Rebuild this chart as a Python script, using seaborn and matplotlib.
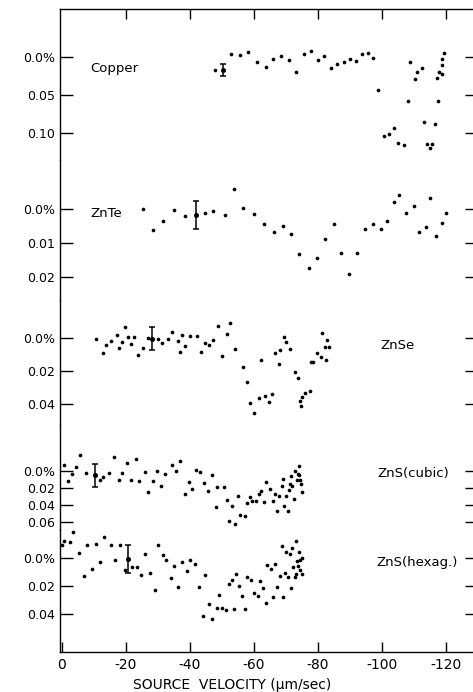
import matplotlib
matplotlib.use("Agg")
import matplotlib.pyplot as plt
import seaborn as sns

# ---------------- data (velocity in um/sec, absorption in %) ----------------
copper_v = [-47.9, -52.9, -55.8, -58.2, -61.0, -63.7, -66.1, -68.6, -71.1, -73.2, -75.8, -77.9,
            -80.0, -82.1, -84.1, -86.0, -88.1, -90.0, -92.0, -93.8, -95.6, -97.3, -98.7, -100.7,
            -102.2, -103.8, -105.0, -107.1, -108.2, -108.8, -110.5, -111.1, -112.5, -113.2, -114.3,
            -115.1, -115.8, -116.6, -117.4, -117.7, -118.0, -118.7, -118.9, -119.0, -119.6]
copper_a = [0.0171, -0.0044, -0.0022, -0.0066, 0.0070, 0.0136, 0.0031, -0.0013, 0.0044, 0.0202,
            -0.0035, -0.0083, 0.0044, -0.0013, 0.0149, 0.0096, 0.0061, 0.0026, 0.0053, -0.0035,
            -0.0048, 0.0009, 0.0434, 0.1039, 0.1009, 0.0934, 0.1127, 0.1158, 0.0579, 0.0070,
            0.0289, 0.0193, 0.0149, 0.0851, 0.1149, 0.1193, 0.1149, 0.0882, 0.0272, 0.0575,
            0.0197, 0.0228, 0.0110, 0.0022, -0.0053]
copper_err = (-50.5, 0.0175, 0.0079)

znte_v = [-25.2, -28.6, -31.7, -35.0, -38.5, -44.6, -47.4, -51.1, -53.7, -56.7, -60.1, -63.1,
          -66.2, -69.0, -71.7, -74.2, -77.2, -79.8, -82.4, -85.0, -87.4, -89.8, -92.4, -94.7,
          -97.4, -99.7, -101.6, -103.8, -105.5, -107.7, -110.0, -111.7, -113.9, -115.2, -117.1,
          -118.8, -120.0]
znte_a = [0.0, 0.00627, 0.00353, 0.0002, 0.00206, 0.00118, 0.00069, 0.00176, -0.00588, -0.00039,
          0.00157, 0.00451, 0.00686, 0.0051, 0.00725, 0.01324, 0.01725, 0.01441, 0.00892, 0.00431,
          0.01294, 0.01912, 0.01294, 0.00578, 0.00431, 0.00578, 0.00363, -0.00216, -0.00402,
          0.00118, -0.00098, 0.00686, 0.0052, -0.00333, 0.00804, 0.00412, 0.00127]
znte_err = (-41.9, 0.00176, 0.00407)

znse_v = [-10.7, -12.7, -13.8, -15.3, -17.3, -17.8, -18.8, -19.8, -20.8, -21.7, -22.5, -23.7,
          -25.4, -27.0, -29.9, -31.4, -33.1, -34.5, -36.2, -37.0, -37.6, -38.6, -40.1, -42.2,
          -43.5, -44.8, -46.0, -47.3, -48.7, -50.1, -51.5, -52.7, -54.2, -56.7, -58.0, -58.8,
          -60.1, -61.6, -62.4, -63.6, -64.7, -65.8, -66.7, -67.8, -68.3, -69.3, -70.1, -71.3,
          -72.8, -73.7, -74.5, -74.7, -75.1, -76.0, -77.6, -77.8, -78.5, -79.8, -80.9, -81.3,
          -82.5, -82.9, -82.3, -83.4]
znse_a = [0.0004, 0.0091, 0.0041, 0.0020, -0.0018, 0.0061, 0.0026, -0.0065, -0.0004, 0.0039,
          -0.0004, 0.0104, 0.0061, 0.0, 0.0004, 0.0032, 0.0006, -0.0037, 0.0016, 0.0085,
          -0.0016, 0.0047, -0.0012, -0.0012, 0.0085, 0.0028, 0.0041, 0.0010, -0.0075, 0.0108,
          -0.0026, -0.0091, 0.0067, 0.0177, 0.0268, 0.0396, 0.0455, 0.0365, 0.0132, 0.0353,
          0.0390, 0.0341, 0.0091, 0.0156, 0.0071, -0.0008, 0.0024, 0.0065, 0.0207, 0.0244,
          0.0380, 0.0410, 0.0355, 0.0335, 0.0323, 0.0146, 0.0146, 0.0091, 0.0114, -0.0028,
          0.0134, 0.0010, 0.0053, 0.0053]
znse_err = (-28.3, 0.0004, 0.0069)

cubic_v = [-0.7, -1.8, -3.0, -4.5, -5.7, -7.6, -11.8, -13.0, -14.8, -16.3, -17.7, -18.8, -20.2,
           -21.7, -23.1, -24.2, -26.0, -26.8, -28.4, -29.6, -30.9, -32.3, -34.5, -35.6, -37.0,
           -38.6, -39.8, -40.8, -41.8, -43.2, -44.3, -45.8, -46.9, -48.2, -48.6, -50.6, -51.5,
           -52.2, -53.3, -54.1, -55.2, -55.8, -57.2, -57.9, -58.8, -59.5, -60.6, -61.5, -62.4,
           -63.2, -63.8, -65.1, -65.9, -66.5, -67.3, -68.0, -68.8, -69.0, -69.4, -70.1, -70.6,
           -71.1, -71.3, -71.5, -71.9, -72.6, -73.0, -73.4, -73.7, -74.0, -74.2, -74.5, -74.8,
           -75.0]
cubic_a = [-0.0075, 0.0122, 0.0031, -0.0043, -0.0192, 0.0020, 0.0110, 0.0075, 0.0024, -0.0165,
           0.0106, 0.0020, -0.0090, 0.0106, -0.0141, 0.0118, 0.0008, 0.0247, 0.0122, -0.0004,
           0.0180, 0.0039, -0.0071, 0.0, -0.0122, 0.0275, 0.0129, 0.0208, -0.0016, 0.0016,
           0.0141, 0.0239, 0.0043, 0.0427, 0.0192, 0.0192, 0.0345, 0.0588, 0.0408, 0.0627,
           0.0290, 0.0522, 0.0533, 0.0380, 0.0306, 0.0357, 0.0357, 0.0271, 0.0235, 0.0369,
           0.0125, 0.0208, 0.0353, 0.0271, 0.0475, 0.0298, 0.0180, 0.0090, 0.0416, 0.0294,
           0.0467, 0.0227, 0.0149, 0.0055, 0.0173, 0.0325, 0.0, 0.0110, 0.0039, -0.0063,
           0.0051, 0.0102, 0.0149, 0.0243]
cubic_err = (-10.5, 0.0051, 0.0135)

hexag_v = [0.0, -0.7, -2.5, -3.6, -5.4, -6.9, -7.9, -9.4, -10.6, -11.9, -13.2, -15.4, -16.6,
           -18.1, -19.6, -21.8, -23.4, -24.8, -26.1, -27.7, -29.0, -30.2, -31.5, -32.7, -34.2,
           -35.0, -36.3, -37.6, -39.0, -40.1, -41.5, -42.9, -44.0, -44.8, -46.1, -47.0, -48.5,
           -49.0, -50.2, -51.4, -52.1, -53.2, -53.9, -54.5, -55.3, -56.2, -57.1, -58.0, -59.0,
           -60.1, -61.2, -61.8, -63.0, -63.8, -64.1, -65.3, -65.9, -66.7, -67.3, -68.2, -68.8,
           -69.0, -69.8, -70.0, -70.6, -71.2, -71.6, -71.9, -72.3, -72.9, -73.1, -73.3, -73.4,
           -73.8, -74.1, -74.5, -74.6, -75.0, -75.0]
hexag_a = [-0.0096, -0.0125, -0.0115, -0.0187, -0.0034, 0.0125, -0.0096, 0.0077, -0.0101, 0.0026,
           -0.0149, -0.0096, 0.0017, -0.0096, 0.0084, 0.0062, 0.0062, 0.0120, -0.0029, 0.0110,
           0.0230, -0.0091, -0.0022, 0.0012, 0.0146, 0.0060, 0.0204, 0.0026, 0.0093, 0.0017,
           0.0046, 0.0208, 0.0414, 0.0120, 0.0331, 0.0436, 0.0354, 0.0266, 0.0359, 0.0369,
           0.0184, 0.0156, 0.0366, 0.0113, 0.0199, 0.0271, 0.0366, 0.0137, 0.0158, 0.0251,
           0.0268, 0.0163, 0.0216, 0.0321, 0.0048, 0.0079, 0.0275, 0.0041, 0.0208, 0.0127,
           -0.0089, 0.0275, 0.0108, -0.0041, 0.0137, -0.0029, 0.0211, -0.0072, 0.0067, 0.0132,
           0.0113, -0.0122, 0.0024, 0.0060, -0.0041, 0.0089, 0.0012, 0.0002, 0.0113]
hexag_err = (-20.6, 0.0007, 0.0103)

names = ["Copper", "ZnTe", "ZnSe", "ZnS(cubic)", "ZnS(hexag.)"]
ytick_vals = [[0.0, 0.05, 0.10], [0.0, 0.01, 0.02], [0.0, 0.02, 0.04],
              [0.0, 0.02, 0.04, 0.06], [0.0, 0.02, 0.04]]
ytick_labels = [["0.0%", "0.05", "0.10"], ["0.0%", "0.01", "0.02"], ["0.0%", "0.02", "0.04"],
                ["0.0%", "0.02", "0.04", "0.06"], ["0.0%", "0.02", "0.04"]]
xtick_vals = [0, -20, -40, -60, -80, -100, -120]
xtick_labels = ["0", "-20", "-40", "-60", "-80", "-100", "-120"]

# ---------------- layout ----------------
plt.rcParams["font.family"] = ["DejaVu Sans"]
plt.rcParams["axes.unicode_minus"] = False

series = [(copper_v, copper_a, copper_err), (znte_v, znte_a, znte_err),
          (znse_v, znse_a, znse_err), (cubic_v, cubic_a, cubic_err),
          (hexag_v, hexag_a, hexag_err)]
ylims = [(0.1355, -0.0632), (0.02676, -0.01441), (0.0527, -0.0230),
         (0.0694, -0.0541), (0.0671, -0.0200)]
label_pos = [(-8.8, 0.0145), (-8.8, 0.0012), (-99.5, 0.0048),
             (-98.8, 0.0035), (-98.2, 0.0029)]

W, H = 473, 692
fig = plt.figure(figsize=(W / 100, H / 100), dpi=100)
gs = fig.add_gridspec(5, 1, height_ratios=[151, 140, 125, 105, 122], hspace=0,
                      left=60 / W, right=477 / W, top=1 - 9 / H, bottom=1 - 652 / H)

for i, (v, a, err) in enumerate(series):
    ax = fig.add_subplot(gs[i])
    sns.scatterplot(x=v, y=a, ax=ax, color="black", s=7, linewidth=0,
                    legend=False, clip_on=False, zorder=3)
    ax.errorbar([err[0]], [err[1]], yerr=[err[2]], fmt="o", ms=2.6, color="black",
                capsize=2.5, elinewidth=1.1, capthick=1.1, clip_on=False, zorder=4)
    ax.set_xlim(0.6, -129.8)
    ax.set_ylim(*ylims[i])
    ax.set_yticks(ytick_vals[i])
    ax.set_yticklabels(ytick_labels[i])
    ax.tick_params(axis="y", which="both", direction="in", length=9, width=1,
                   left=True, right=True, labelsize=9, pad=3.5, colors="black")
    for side in ("left", "right"):
        ax.spines[side].set_linewidth(1.0)
        ax.spines[side].set_color("black")
    ax.spines["top"].set_visible(i == 0)
    ax.spines["bottom"].set_visible(i == 4)
    ax.spines["top"].set_linewidth(1.0)
    ax.spines["bottom"].set_linewidth(1.0)
    if i == 0:
        ax.set_xticks(xtick_vals[1:])
        ax.tick_params(axis="x", top=True, bottom=False, labeltop=False,
                       labelbottom=False, direction="in", length=7, width=1)
    elif i == 4:
        ax.set_xticks(xtick_vals)
        ax.set_xticklabels(xtick_labels)
        ax.tick_params(axis="x", top=False, bottom=True, direction="in",
                       length=7, width=1, labelsize=10, pad=4.5)
        ax.set_xlabel("SOURCE  VELOCITY (\u03bcm/sec)", fontsize=10, labelpad=3)
        ax.xaxis.set_label_coords(0.412, -0.21)
    else:
        ax.set_xticks([])
        ax.tick_params(axis="x", top=False, bottom=False, labelbottom=False)
    ax.set_ylabel("")
    lx, ly = label_pos[i]
    ax.text(lx, ly, names[i], ha="left", va="center", fontsize=9.5, color="black")
    ax.patch.set_alpha(0)

fig.savefig("out.png", dpi=100)
